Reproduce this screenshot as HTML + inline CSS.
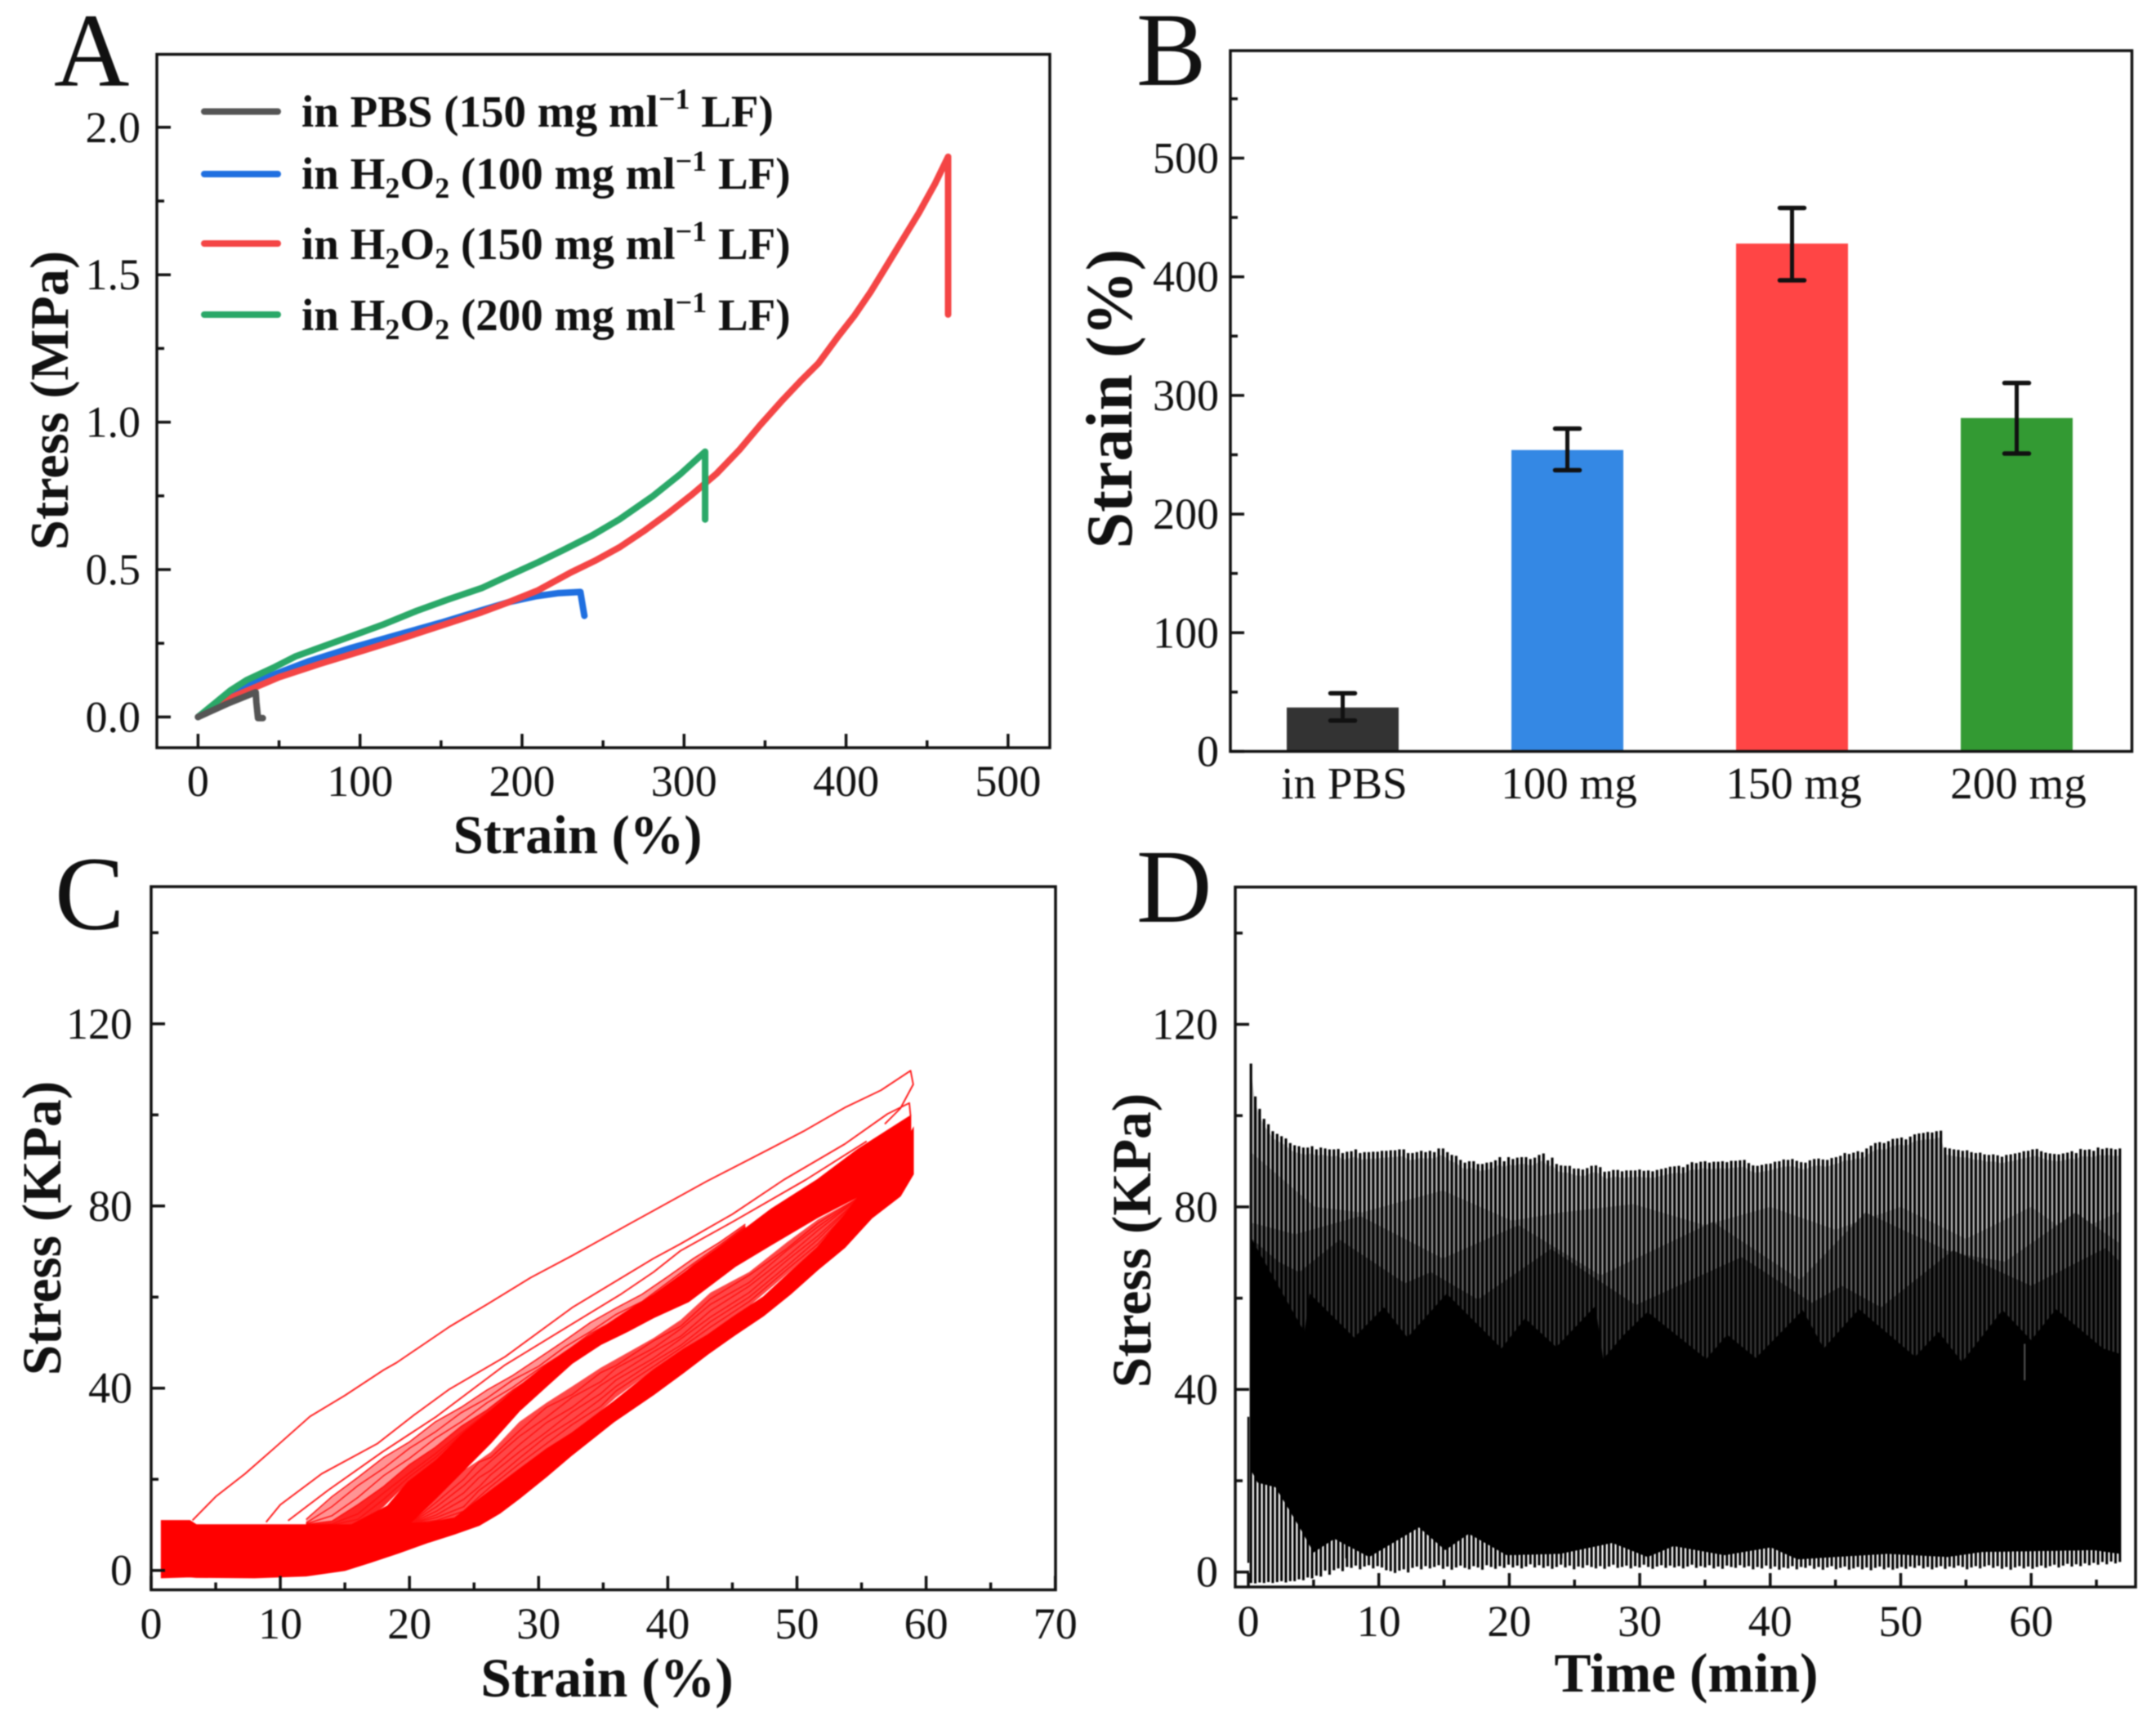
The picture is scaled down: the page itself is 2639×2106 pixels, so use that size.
<!DOCTYPE html>
<html lang="en">
<head>
<meta charset="utf-8">
<title>Stress and strain panels A to D</title>
<style>
html,body{margin:0;padding:0;background:#fff;}
svg{display:block;filter:blur(0.7px);}
text{font-family:"Liberation Serif","Times New Roman",serif;fill:#111;}
.t{font-weight:bold;}
.l{font-size:128px;}
.lg{font-size:55px;font-weight:bold;}
</style>
</head>
<body>
<svg id="fig" xmlns="http://www.w3.org/2000/svg" width="2639" height="2106" viewBox="0 0 2639 2106">
<rect width="2639" height="2106" fill="#fff"/>
<g id="pa"></g>
<g id="pb"></g>
<g id="pc"></g>
<g id="pd"></g>

<text class="l" x="66" y="105">A</text>
<text class="l" x="1391" y="104">B</text>
<text class="l" x="67" y="1137">C</text>
<text class="l" x="1391" y="1128">D</text>

<text class="t" font-size="66.5" x="707" y="1044" text-anchor="middle">Strain (%)</text>
<text class="t" font-size="66.5" transform="translate(83,490) rotate(-90)" text-anchor="middle">Stress (MPa)</text>
<text class="t" font-size="80" transform="translate(1385,488) rotate(-90)" text-anchor="middle">Strain (%)</text>
<text class="t" font-size="67.5" x="743" y="2076" text-anchor="middle">Strain (%)</text>
<text class="t" font-size="67.5" transform="translate(74,1503) rotate(-90)" text-anchor="middle">Stress (KPa)</text>
<text class="t" font-size="67.5" x="2064" y="2070" text-anchor="middle">Time (min)</text>
<text class="t" font-size="67.5" transform="translate(1408,1518) rotate(-90)" text-anchor="middle">Stress (KPa)</text>

<g>
<line x1="250" x2="340" y1="136.5" y2="136.5" stroke="#555" stroke-width="8" stroke-linecap="round"/>
<line x1="250" x2="340" y1="213" y2="213" stroke="#1f6fe0" stroke-width="8" stroke-linecap="round"/>
<line x1="250" x2="340" y1="298" y2="298" stroke="#f44545" stroke-width="8" stroke-linecap="round"/>
<line x1="250" x2="340" y1="385" y2="385" stroke="#2aa868" stroke-width="8" stroke-linecap="round"/>
<text class="lg" x="369" y="155">in PBS (150 mg ml<tspan font-size="36" dy="-22">−1</tspan><tspan dy="22"> LF)</tspan></text>
<text class="lg" x="369" y="231">in H<tspan font-size="36" dy="11">2</tspan><tspan dy="-11">O</tspan><tspan font-size="36" dy="11">2</tspan><tspan dy="-11"> (100 mg ml</tspan><tspan font-size="36" dy="-22">−1</tspan><tspan dy="22"> LF)</tspan></text>
<text class="lg" x="369" y="317">in H<tspan font-size="36" dy="11">2</tspan><tspan dy="-11">O</tspan><tspan font-size="36" dy="11">2</tspan><tspan dy="-11"> (150 mg ml</tspan><tspan font-size="36" dy="-22">−1</tspan><tspan dy="22"> LF)</tspan></text>
<text class="lg" x="369" y="404">in H<tspan font-size="36" dy="11">2</tspan><tspan dy="-11">O</tspan><tspan font-size="36" dy="11">2</tspan><tspan dy="-11"> (200 mg ml</tspan><tspan font-size="36" dy="-22">−1</tspan><tspan dy="22"> LF)</tspan></text>
</g>
</svg>

<script>
/* ---------- Panel A data: strain %, stress MPa ---------- */
const aBlueStrain = [0,12,24,45,69,95,124,150,175,192,209,222,236,238.5];
const aBlueStress = [0,0.05,0.09,0.14,0.19,0.235,0.28,0.32,0.362,0.39,0.41,0.42,0.424,0.343];
const aRedStrain = [0,10,20,35,50,75,100,125,150,175,192,210,230,245,260,275,290,305,320,334,347,360,372,383,395,405,415,425,435,445,455,463,463];
const aRedStress = [0,0.03,0.065,0.1,0.135,0.18,0.222,0.265,0.31,0.355,0.39,0.43,0.49,0.53,0.575,0.63,0.69,0.755,0.825,0.905,0.99,1.07,1.14,1.2,1.29,1.36,1.44,1.53,1.62,1.71,1.81,1.9,1.365];
const aGreenStrain = [0,10,20,30,47.5,60,80,100,115,135,155,175,190,210,225,243,260,281,298,313,313];
const aGreenStress = [0,0.045,0.09,0.125,0.17,0.205,0.245,0.285,0.315,0.36,0.4,0.437,0.475,0.525,0.565,0.615,0.67,0.75,0.825,0.9,0.67];
const aGrayStrain = [0,18,35.6,36,37,40];
const aGrayStress = [0,0.045,0.084,0.05,-0.004,-0.004];
const aXTicks = [0,100,200,300,400,500];
const aXMinor = [50,150,250,350,450];
const aYTicks = ["0.0","0.5","1.0","1.5","2.0"];
const aYMinor = [0.25,0.75,1.25,1.75];

/* ---------- Panel B data ---------- */
const bCategories = ["in PBS","100 mg","150 mg","200 mg"];
const bValues = [37,254,428,281];
const bErrHigh = [49,272,458,310.5];
const bErrLow = [26,237,397,251];
const bColors = ["#333333","#3488e4","#ff4545","#339a33"];
const bYTicks = [0,100,200,300,400,500];
const bYMinor = [50,150,250,350,450,550];

/* ---------- Panel C data: strain %, stress KPa ---------- */
const cUnloadStrain = [0.8,3,3.5,8,12,15,17,19.2,21.5,23.5,25.4,27,28.5,30.6,32.6,35.8,38.9,41.2,43.1,45.2,47.4,49.5,51.6,53.7,55.8,58,59];
const cUnloadBottom = [-1.6,-1.4,-1.5,-1.6,-1.2,0,1.8,3.9,6.2,8,9.9,12.6,15.8,20.6,25.4,32.6,38.6,43.4,47.5,51.7,55.9,60.7,66,70.9,77.4,82.2,87];
const cUnloadTop = [10.9,10.9,10,10,10,10,10,10.2,10.5,11.5,15.6,19,22.2,26.6,30.2,37,44,48.5,51.7,55.9,60,65.5,70.9,78,86,92,97];
const cLoadStrain = [15.5,18.3,19.9,22.1,24.2,26.3,28.5,30.6,32.6,34.8,36.9,38.9,41.6,45.2,48,51.6,54.7,58.8];
const cLoadTop = [10,14.1,19.4,24.2,30.2,35,40.4,45.1,49,53,57,60.5,66,73.3,79.3,85.8,92.4,99.8];
const cLoadBottom = [10,10,10,16,22,28,35,40.4,45.5,49.6,52.5,55.5,59,66.7,71.5,77.5,82,88];
const cFanGrid = [12,14,16,18,20,22,24,26,28,30,32,34,36,38,40,42,44,46];
const cFanBandTop = [10,10,10,14,19.6,24,29.6,34.3,39,43.8,47.9,51.6,55,58.6,62,66.3,70.7,75];
const cFan4 = [11.2,16.2,20.4,24.8,28.2,32.6,35.8,39.6,42.8,46.6,50.4,54.4,57.6,60.6,64.5,68.5,72,76];
const cFan5 = [10.4,14,18.6,22.4,26.8,30.4,34.6,37.8,41.8,44.8,49,52.4,56.2,59,63.2,67.4,71.4,75.6];
const cFan6 = [10.2,12,16,20.8,24.6,29,32.6,36.8,40.2,44.2,47.8,52,55,58.8,62.2,67,71,75.4];
const cFan7 = [10.1,10.8,14.4,18.4,23.2,27,31.6,35.2,39.6,43.2,47.8,51.2,55,58.6,62,66.7,70.9,75.2];
const cFan8 = [10,10.2,12.4,17,21.4,25.6,30.2,34.6,38.8,43.6,47.2,51.4,55,58.6,62,66.5,70.8,75.1];
const cFan9 = [10,10,11.2,15.6,20.6,24.8,29.8,34.4,39,43.8,47.9,51.6,55,58.6,62,66.3,70.7,75];
const cLowerGrid = [20,22.1,24.2,25.4,26.3,28.5,30.6,32.6,34.8,36,38.9,41,43.3,46.3,49.2,51.6,55];
const cLowerTop = [10.2,16,22,24.2,26,32.6,36.8,40.4,44.5,46.4,51,55,61,65.5,72,77,82.3];
const cLowerBottom = [10.2,10.6,12,15.6,17.5,22.2,26.6,30.2,35,38,44,48,52,58,65,70.9,82];
const cLower1 = [10.2,15,20,23.8,24.8,30.6,35.8,38.6,43.4,45,50.4,53.6,59.6,64.8,70.6,76.2,82.3];
const cLower2 = [10.2,14,18.6,21.8,24,29.4,33.6,38,41.4,44.4,48.8,53,58.4,63.2,70.2,75.4,82.2];
const cLower3 = [10.2,13,17,20.4,22,27.6,32.4,35.8,40.6,42.8,48,51.4,57,62.4,68.8,74.6,82.2];
const cLower4 = [10.2,12.2,15.6,18.4,21,26,30.4,34.8,38.8,41.8,46.6,50.8,55.6,61,68,73.4,82.1];
const cLower5 = [10.2,11.6,14,17.6,19.4,24.6,29.4,33,37.6,40.4,45.8,49.4,54.6,60,66.8,72.6,82.1];
const cLower6 = [10.2,11,13,16.2,18.4,23.4,27.8,32,36,39.4,44.8,48.8,53.4,59,66,71.6,82];
const cCycle1Strain = [3.2,5,7.27,9.6,12.3,15,18,19,23.1,26,29.4,32.6,36.8,38.9,43,48,50.5,53.7,56.5,58.8,59,58,56.8];
const cCycle1Stress = [11,16.2,21.2,27,33.8,38.4,44,45.6,53.5,58.4,64.3,69.1,75.7,79,85.4,92.7,96.4,101.6,105.4,109.7,106.7,101.4,98];
const cCycle2Strain = [8.9,10,13.2,17.5,20.3,23.1,27.4,32.6,38.9,41,45,49,53.7,57,58.7,58.8];
const cCycle2Stress = [10.6,14.4,21.2,27.8,34,39.8,46.9,57.7,68.5,71.7,78.2,85.8,93.6,100.2,102.6,99.6];
const cCycle3Strain = [10.6,13.7,17.9,22.1,27.4,32.6,36.4,38.9,41,45.2,50.7,55.4];
const cCycle3Stress = [10.9,17.6,26,33.8,45.1,54.1,60.7,65.5,70.2,76.8,85.8,94.2];
const cXTicks = [0,10,20,30,40,50,60,70];
const cXMinor = [5,15,25,35,45,55,65];
const cYTicks = [0,40,80,120];
const cYMinor = [20,60,100,140];

/* ---------- Panel D data: cycle peaks and troughs in KPa ---------- */
const dPeaks = [
111.4,104.2,101.5,99.3,98.1,96.6,96,95.5,95,94,
93.5,93.3,93,93,93.3,92.6,93,92.8,92.6,92.6,
92.7,91.8,92.1,92.2,92.6,91.8,92,92,92.1,92.1,
92.3,92.3,92.4,92.4,92.6,92.6,91.8,91.8,92,92.3,
92,92.3,92,92.8,92.8,92,91.4,91.2,90.3,89.7,
90,90,89.4,89.4,89.7,89.8,90.2,90.9,90,90.9,
90.5,90.8,90.9,90.9,90.5,90.8,91.4,91.7,90.2,90.8,
89.4,89.1,89,89,88.4,88.4,88.2,88.5,89,89.1,
88.7,87.7,87.8,88.1,88.1,87.8,88,88,88,88.2,
87.9,88,87.8,88.1,88.3,88.5,88.8,88.9,89,88.7,
89.3,89.8,89.6,89.9,90,89.7,89.9,89.9,90,89.8,
90.1,90.1,90.2,90.3,89.6,89.1,89,89.2,89.4,89.5,
89.9,90,90.4,90.3,90.5,90.1,89.8,89.7,90.2,90.5,
90.6,90.4,90.3,90.7,90.9,91.2,91.8,91.6,91.9,92.2,
92,92.8,93.4,94,94.2,94,94.4,94.9,95,95.2,
94.8,95.4,95.9,96.1,96.2,96.4,96.3,96.6,96.7,93,
92.8,92.6,92.5,92.3,92.4,92,91.8,91.9,91.5,91.4,
91.5,91.3,91,91.4,91.5,91.7,91.9,92.2,92.3,92.6,
92.7,92.2,91.9,91.7,91.6,91.5,91.7,91.9,92.2,91.8,
92.7,92.5,92.6,92.3,93,92.7,92.9,92.8,92.6,92.8];
const dTroughs = [
-2.4,-2.5,-2.3,-2.4,-2.2,-2.4,-2.2,-2,-2.3,-2,
-2,-1.6,-1.8,-1.2,-1.4,-0.8,-1,0.3,-0.6,0.4,
0.8,0.2,1.1,0.9,1.4,0.6,1.2,1.5,0.8,1.3,
1,0.4,0.2,-0.2,0.3,0.6,-0.1,0.9,1.2,0.6,
1.3,0.8,1.1,1.5,0.7,1.2,0.5,1,1.4,0.9,
0.6,1.3,1,0.5,1.5,1.1,0.7,1.3,0.9,1.6,
1,1.4,0.8,1.2,1.7,1,1.5,0.9,1.3,0.7,
1.1,1.6,1,1.4,0.6,1.2,0.9,1.5,1.1,0.8,
1.3,0.7,1.2,1.6,0.9,1.1,1.4,0.8,1.3,1,
1.6,1.1,0.7,1.2,1.5,0.9,1.4,1,1.3,0.8,
1.2,1.6,0.9,1.3,1,1.5,0.8,1.2,0.7,1.4,
1.1,0.9,1.5,1,1.3,0.6,1.1,0.8,1.4,0.7,
1.2,0.5,1,0.8,1.3,0.6,1.1,0.9,1.4,0.7,
1.1,0.5,1,1.3,0.6,0.9,1.2,0.5,0.8,1.1,
0.6,1,0.4,0.9,1.2,0.6,1,0.5,0.8,1.1,
0.7,1.2,0.9,1.4,0.8,1.1,0.6,1,1.3,0.7,
1.2,0.9,1.4,1.1,0.6,1,1.3,0.8,1.2,1.5,
0.9,1.3,0.7,1.1,0.5,1,1.3,0.8,1.2,0.7,
1.1,1.4,0.9,1.3,1.6,1,1.4,1.8,1.2,1.7,
1.3,1.9,1.5,2,1.6,2.2,1.7,2.3,1.9,2.2];
const dLightStart = 0.2;
const dLightEnd = 66.8;
const dUpperTime = [0.2,5.1,8.7,14.9,20.2,24,29.5,35,40,45,50,55,60,63,66.8];
const dUpperStress = [92,80,78.8,83.6,77,78.8,80.6,76,80,75,80,73,80,74,79];
const dMidTime = [0.27,3.6,8.6,14.9,20.7,27,35.6,42.3,47.3,53.9,58,63.4,66.8];
const dMidStress = [76.5,74,78,68.7,76,65,76.7,64,78.8,70,68,78.8,72];
const dDarkTime = [0.27,2.3,3.9,7,12,14,17.6,23.2,29.7,37.8,43.2,45.5,48.5,54,60,65.7,66.8];
const dDarkStress = [73,68,65.7,72.8,63.3,65.7,59.7,70.8,58.5,69,59,62.7,58,70.5,62.7,71,68];
const dBlackTime = [0.27,4.3,4.7,8.1,10.4,12.2,15.2,19.4,21.2,23.6,26.6,27.2,28.8,30.6,35.1,36.7,38.9,42.5,44.1,46.8,51.1,52.9,54.7,57.8,60,61.9,65.5,66.8];
const dBlackStress = [72.9,52.6,61,51.4,58,51.4,61,49,55.6,49.3,58.3,46.7,52,57,46.7,52,46.9,57.4,49,57.6,47.2,52.6,46,57.4,50.8,57.6,49,47.8];
const dLowTime = [0.27,0.72,2.07,2.97,4.09,5,6.6,7.46,9.26,13.08,15.1,16.9,19.8,23.9,27.9,30.6,32.6,36.5,40.05,42.1,49,53.6,56.2,64.8,66.8];
const dLowStress = [22,19.6,18.6,14.4,9,4.3,7.3,6,3.3,9.8,4.8,8.4,3.7,4,6.4,3.3,5.7,3.7,5.4,2.8,4,3.3,4.4,4.8,4];
const dOutlierTime = [0,7.5,24];
const dOutlierLow = [2,3,3];
const dOutlierHigh = [34,18.6,8.8];
const dNotchTime = [59.5];
const dNotchLow = [42];
const dNotchHigh = [50];
const dXTicks = [0,10,20,30,40,50,60];
const dXMinor = [5,15,25,35,45,55,65];
const dYTicks = [0,40,80,120];
const dYMinor = [20,60,100,140];

/* ---------- Scales ---------- */
const aX = v => 242.4 + v * 1.983;
const aY = v => 877.4 - v * 360.8;
const bY = v => 919.5 - v * 1.452;
const cX = v => 185 + v * 15.81;
const cY = v => 1921.7 - v * 5.574;
const dX = v => 1528 + v * 15.97;
const dY = v => 1923.7 - v * 5.585;

const NS = "http://www.w3.org/2000/svg";
function mk(tag, parent, attrs) {
  const e = document.createElementNS(NS, tag);
  for (const k in attrs) e.setAttribute(k, attrs[k]);
  parent.appendChild(e);
  return e;
}
function linePts(xs, ys, fx, fy) {
  return xs.map((x, i) => fx(x).toFixed(1) + "," + fy(ys[i]).toFixed(1)).join(" ");
}
function bandPts(xs, top, bottom, fx, fy) {
  const up = xs.map((x, i) => fx(x).toFixed(1) + "," + fy(top[i]).toFixed(1));
  const lo = xs.map((x, i) => fx(x).toFixed(1) + "," + fy(bottom[i]).toFixed(1)).reverse();
  return up.concat(lo).join(" ");
}
function envelopeBand(tx, ty, lx, ly) {
  const up = tx.map((x, i) => dX(x).toFixed(1) + "," + dY(ty[i]).toFixed(1));
  const lo = lx.map((x, i) => dX(x).toFixed(1) + "," + dY(ly[i]).toFixed(1)).reverse();
  return up.concat(lo).join(" ");
}

/* Frame, ticks and tick labels for one panel */
function drawAxes(g, frame, fx, fy, xMajor, xMinor, yMajor, yMinor, yStr, xBase, yRight) {
  const inkTick = "#111";
  xMajor.forEach(v => {
    const t = mk("line", g, {x1: fx(v), x2: fx(v), y1: frame.b, y2: frame.b - 17, stroke: inkTick, "stroke-width": 3.5});
    
    
    const l = mk("text", g, {x: fx(v), y: xBase, "text-anchor": "middle", "font-size": 54});
    l.textContent = String(v);
    
    
  });
  xMinor.forEach(v => {
    const t = mk("line", g, {x1: fx(v), x2: fx(v), y1: frame.b, y2: frame.b - 9, stroke: inkTick, "stroke-width": 3.5});
    
    
  });
  yMajor.forEach((v, i) => {
    const t = mk("line", g, {x1: frame.l, x2: frame.l + 17, y1: fy(v), y2: fy(v), stroke: inkTick, "stroke-width": 3.5});
    
    
    const l = mk("text", g, {x: yRight, y: fy(v) + 18, "text-anchor": "end", "font-size": 54});
    l.textContent = yStr[i];
    
    
  });
  yMinor.forEach(v => {
    const t = mk("line", g, {x1: frame.l, x2: frame.l + 9, y1: fy(v), y2: fy(v), stroke: inkTick, "stroke-width": 3.5});
    
    
  });
  const r = mk("rect", g, {x: frame.l, y: frame.t, width: frame.r - frame.l, height: frame.b - frame.t, fill: "none", stroke: "#111", "stroke-width": 3.5});
  
  
}

/* ---------- Panel A ---------- */
const pa = document.getElementById("pa");
const lineBlue = mk("polyline", pa, {points: linePts(aBlueStrain, aBlueStress, aX, aY), fill: "none", stroke: "#1f6fe0", "stroke-width": 8, "stroke-linejoin": "round", "stroke-linecap": "round"});


const lineRed = mk("polyline", pa, {points: linePts(aRedStrain, aRedStress, aX, aY), fill: "none", stroke: "#f44545", "stroke-width": 8, "stroke-linejoin": "round", "stroke-linecap": "round"});


const lineGreen = mk("polyline", pa, {points: linePts(aGreenStrain, aGreenStress, aX, aY), fill: "none", stroke: "#2aa868", "stroke-width": 8, "stroke-linejoin": "round", "stroke-linecap": "round"});


const lineGray = mk("polyline", pa, {points: linePts(aGrayStrain, aGrayStress, aX, aY), fill: "none", stroke: "#555", "stroke-width": 8, "stroke-linejoin": "round", "stroke-linecap": "round"});


drawAxes(pa, {l: 192, r: 1285, t: 66.5, b: 915}, aX, aY, aXTicks, aXMinor, aYTicks.map(Number), aYMinor, aYTicks, 974, 172);

/* ---------- Panel B ---------- */
const pb = document.getElementById("pb");
const bFx = i => 1643.5 + i * 275;
bCategories.forEach((c, i) => {
  const cx = bFx(i);
  const bar = mk("rect", pb, {x: cx - 68.5, y: bY(bValues[i]), width: 137, height: bY(0) - bY(bValues[i]), fill: bColors[i]});
  
  
  const stem = mk("line", pb, {x1: cx, x2: cx, y1: bY(bErrLow[i]), y2: bY(bErrHigh[i]), stroke: "#111", "stroke-width": 5});
  
  
  const capHi = mk("line", pb, {x1: cx - 15, x2: cx + 15, y1: bY(bErrHigh[i]), y2: bY(bErrHigh[i]), stroke: "#111", "stroke-width": 5.5, "stroke-linecap": "round"});
  
  
  const capLo = mk("line", pb, {x1: cx - 15, x2: cx + 15, y1: bY(bErrLow[i]), y2: bY(bErrLow[i]), stroke: "#111", "stroke-width": 5.5, "stroke-linecap": "round"});
  
  
  const lab = mk("text", pb, {x: cx + 2, y: 977, "text-anchor": "middle", "font-size": 55});
  lab.textContent = c;
  
  
});
drawAxes(pb, {l: 1506, r: 2609.5, t: 62, b: 919.5}, v => v, bY, [], [], bYTicks, bYMinor, bYTicks.map(String), 977, 1492);

/* ---------- Panel C ---------- */
const pc = document.getElementById("pc");
const upFanOuter = mk("polygon", pc, {points: bandPts(cFanGrid, cFan4, cFanBandTop, cX, cY), fill: "rgba(255,0,0,0.42)"});


const upFanInner = mk("polygon", pc, {points: bandPts(cFanGrid, cFan7, cFanBandTop, cX, cY), fill: "rgba(255,0,0,0.75)"});


const loFan = mk("polygon", pc, {points: bandPts(cLowerGrid, cLowerTop, cLowerBottom, cX, cY), fill: "rgba(255,0,0,0.72)"});


[cFan4, cFan5, cFan6, cFan7, cFan8, cFan9].forEach(ys => {
  const f = mk("polyline", pc, {points: linePts(cFanGrid, ys, cX, cY), fill: "none", stroke: "#ff1010", "stroke-width": 1.5});
  
  
});
[cLower1, cLower2, cLower3, cLower4, cLower5, cLower6].forEach(ys => {
  const f = mk("polyline", pc, {points: linePts(cLowerGrid, ys, cX, cY), fill: "none", stroke: "#ff1010", "stroke-width": 1.5});
  
  
});
const unloadBand = mk("polygon", pc, {points: bandPts(cUnloadStrain, cUnloadTop, cUnloadBottom, cX, cY), fill: "#ff0000", stroke: "#ff0000", "stroke-width": 1.5});


const loadBand = mk("polygon", pc, {points: bandPts(cLoadStrain, cLoadTop, cLoadBottom, cX, cY), fill: "#ff0000", stroke: "#ff0000", "stroke-width": 1.5});


[[cCycle1Strain, cCycle1Stress], [cCycle2Strain, cCycle2Stress], [cCycle3Strain, cCycle3Stress]].forEach(p => {
  const f = mk("polyline", pc, {points: linePts(p[0], p[1], cX, cY), fill: "none", stroke: "#ff1818", "stroke-width": 1.9, "stroke-linejoin": "round"});
  
  
});
drawAxes(pc, {l: 185, r: 1292, t: 1085, b: 1945.5}, cX, cY, cXTicks, cXMinor, cYTicks, cYMinor, cYTicks.map(String), 2005, 162);

/* ---------- Panel D ---------- */
const pd = document.getElementById("pd");
const dStep = (dLightEnd - dLightStart) / (dPeaks.length - 1);
const dCycleTime = dPeaks.map((_, i) => dLightStart + i * dStep);
const dGapTop = dPeaks.map(v => v - 1.5);
const lightLayer = mk("polygon", pd, {points: envelopeBand(dCycleTime, dGapTop, dLowTime, dLowStress), fill: "#c4c4c4"});


const upperLayer = mk("polygon", pd, {points: envelopeBand(dUpperTime, dUpperStress, dLowTime, dLowStress), fill: "#989898"});


const midLayer = mk("polygon", pd, {points: envelopeBand(dMidTime, dMidStress, dLowTime, dLowStress), fill: "#6a6a6a"});


const darkLayer = mk("polygon", pd, {points: envelopeBand(dDarkTime, dDarkStress, dLowTime, dLowStress), fill: "#3a3a3a"});


const blackLayer = mk("polygon", pd, {points: envelopeBand(dBlackTime, dBlackStress, dLowTime, dLowStress), fill: "#000"});


dPeaks.forEach((p, i) => {
  const s = mk("line", pd, {x1: dX(dCycleTime[i]), x2: dX(dCycleTime[i]), y1: dY(dTroughs[i]), y2: dY(p), stroke: "#000", "stroke-width": 3.1});
  
  
});
dOutlierTime.forEach((t, i) => {
  const s = mk("line", pd, {x1: dX(t), x2: dX(t), y1: dY(dOutlierLow[i]), y2: dY(dOutlierHigh[i]), stroke: "#000", "stroke-width": 2.4});
  
  
});
dNotchTime.forEach((t, i) => {
  const s = mk("line", pd, {x1: dX(t), x2: dX(t), y1: dY(dNotchLow[i]), y2: dY(dNotchHigh[i]), stroke: "#555", "stroke-width": 2});
  
  
});
drawAxes(pd, {l: 1512, r: 2614, t: 1085.5, b: 1942}, dX, dY, dXTicks, dXMinor, dYTicks, dYMinor, dYTicks.map(String), 2002, 1491);
</script>
</body>
</html>
